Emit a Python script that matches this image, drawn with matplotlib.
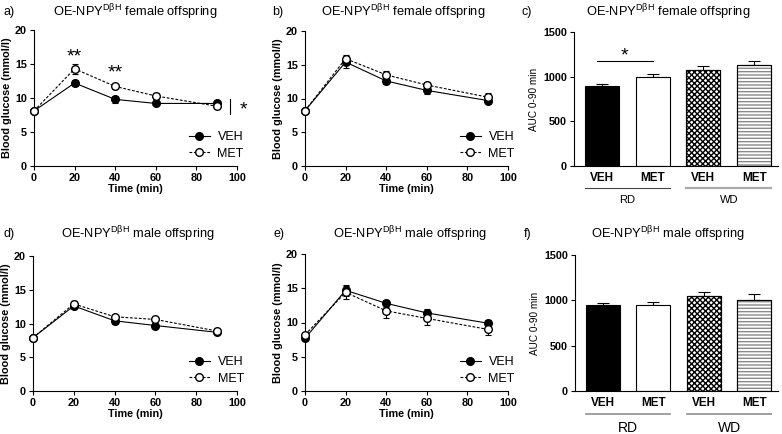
import matplotlib
matplotlib.use("Agg")
import matplotlib.pyplot as plt
import numpy as np

plt.rcParams['font.family'] = ['Liberation Sans', 'DejaVu Sans']
plt.rcParams['mathtext.fontset'] = 'custom'
plt.rcParams['mathtext.rm'] = 'Liberation Sans'
plt.rcParams['hatch.linewidth'] = 1.0

# time course data (mmol/l)
t = [0, 20, 40, 60, 90]

a_veh = [8.1, 12.2, 9.8, 9.2, 9.2]
a_veh_err = [0.2, 0.5, 0.5, 0.3, 0.3]
a_met = [8.1, 14.3, 11.7, 10.3, 8.8]
a_met_err = [0.2, 0.7, 0.4, 0.4, 0.3]

b_veh = [8.2, 15.4, 12.6, 11.2, 9.7]
b_veh_err = [0.2, 0.9, 0.5, 0.5, 0.3]
b_met = [8.2, 15.9, 13.5, 12.0, 10.2]
b_met_err = [0.2, 0.5, 0.6, 0.5, 0.6]

d_veh = [7.9, 12.6, 10.4, 9.7, 8.7]
d_veh_err = [0.2, 0.4, 0.4, 0.4, 0.3]
d_met = [7.9, 12.9, 11.0, 10.6, 8.9]
d_met_err = [0.2, 0.5, 0.2, 0.3, 0.3]

e_veh = [7.7, 14.7, 12.8, 11.4, 9.9]
e_veh_err = [0.2, 0.8, 0.5, 0.6, 0.5]
e_met = [8.2, 14.4, 11.7, 10.6, 9.0]
e_met_err = [0.2, 0.9, 1.0, 0.9, 0.8]

# AUC data
bar_labels = ['VEH', 'MET', 'VEH', 'MET']
groups = ['RD', 'WD']
c_auc = [895, 1000, 1075, 1128]
c_auc_err = [27, 34, 45, 45]
f_auc = [946, 950, 1053, 1005]
f_auc_err = [30, 30, 40, 70]

W, H = 782, 434
fig = plt.figure(figsize=(W / 100, H / 100), dpi=100)


def ax_at(x0, y0, x1, y1):
    return fig.add_axes([x0 / W, 1 - y1 / H, (x1 - x0) / W, (y1 - y0) / H])


def title(letter, sex, lx, cx, y):
    fig.text(lx / W, 1 - y / H, letter, fontsize=9, va='center')
    fig.text(cx / W, 1 - y / H, r'OE-NPY$^{\mathrm{DβH}}$ ' + sex + ' offspring',
             fontsize=9.3, ha='center', va='center')


def style(ax):
    for s in ['top', 'right']:
        ax.spines[s].set_visible(False)
    for s in ['left', 'bottom']:
        ax.spines[s].set_linewidth(0.8)
    ax.tick_params(length=3, width=0.8, labelsize=7.8, pad=2)
    for lb in ax.get_xticklabels() + ax.get_yticklabels():
        lb.set_fontweight('bold')


def line_panel(ax, veh, veh_err, met, met_err):
    ax.errorbar(t, veh, yerr=veh_err, fmt='none', ecolor='black', capsize=2,
                elinewidth=0.8, capthick=0.8, clip_on=False, zorder=2)
    ax.errorbar(t, met, yerr=met_err, fmt='none', ecolor='black', capsize=2,
                elinewidth=0.8, capthick=0.8, clip_on=False, zorder=2)
    ax.plot(t, veh, color='black', lw=0.8, marker='o', ms=5.5, mfc='black', mec='black',
            label='VEH', clip_on=False, zorder=3)
    ax.plot(t, met, color='black', lw=0.8, ls=(0, (2.5, 1.5)), marker='o', ms=5.5,
            mfc='white', mec='black', label='MET', clip_on=False, zorder=4)
    ax.set_xlim(0, 100)
    ax.set_ylim(0, 20)
    ax.set_xticks([0, 20, 40, 60, 80, 100])
    ax.set_yticks([0, 5, 10, 15, 20])
    ax.set_xlabel('Time (min)', fontsize=7.8, fontweight='bold', labelpad=1)
    ax.set_ylabel('Blood glucose (mmol/l)', fontsize=7.8, fontweight='bold', labelpad=2)
    style(ax)
    ax.legend(loc='lower right', bbox_to_anchor=(1.07, -0.01), frameon=False, fontsize=9,
              handlelength=1.7, handletextpad=0.6, labelspacing=0.35, borderaxespad=0.2)


def bar_panel(ax, vals, errs, big_group=False):
    x = np.arange(len(vals))
    fills = ['black', 'white', 'white', 'white']
    hatches = [None, None, 'xxxxxx', '-----']
    hcols = ['black', 'black', 'black', '#888888']
    for i in range(len(vals)):
        ax.bar(x[i], vals[i], width=0.67, color=fills[i], edgecolor='black', lw=0.8, zorder=2)
        if hatches[i]:
            ax.bar(x[i], vals[i], width=0.67, color='none', edgecolor=hcols[i], lw=0,
                   hatch=hatches[i], zorder=2)
            ax.bar(x[i], vals[i], width=0.67, color='none', edgecolor='black', lw=0.8, zorder=3)
        ax.errorbar(x[i], vals[i], yerr=[[0], [errs[i]]], color='black', capsize=4,
                    elinewidth=0.8, capthick=0.8, zorder=1)
    ax.set_xlim(-0.55, 3.47)
    ax.set_ylim(0, 1500)
    ax.set_yticks([0, 500, 1000, 1500])
    ax.set_xticks(x)
    ax.set_xticklabels(bar_labels)
    ax.set_ylabel('AUC 0-90 min', fontsize=7.2, labelpad=3)
    style(ax)
    ax.tick_params(axis='x', length=0, pad=4, labelsize=8.5)
    tr = ax.get_xaxis_transform()
    ly = -0.17 if big_group else -0.164
    ty = -0.275 if big_group else -0.254
    gcol = ['#999999', '#999999'] if big_group else ['#444444', '#aaaaaa']
    glw = [1.3, 1.3] if big_group else [0.8, 1.6]
    for g in range(2):
        x0 = 2 * g - 0.335
        x1 = 2 * g + 1 + 0.335
        ax.plot([x0, x1], [ly, ly], transform=tr, color=gcol[g], lw=glw[g], clip_on=False)
        ax.text(2 * g + 0.5, ty, groups[g], transform=tr, ha='center', va='center',
                fontsize=10 if big_group else 8)


# a)
ax = ax_at(34, 30, 237, 166)
line_panel(ax, a_veh, a_veh_err, a_met, a_met_err)
title('a)', 'female', 3, 135, 12)
ax.text(20, 16.1, '**', ha='center', va='center', fontsize=14)
ax.text(40, 13.7, '**', ha='center', va='center', fontsize=14)
ax.plot([96.7, 96.7], [7.6, 9.8], color='black', lw=0.8, clip_on=False)
ax.text(103, 8.3, '*', ha='center', va='center', fontsize=14, clip_on=False)

# b)
ax = ax_at(305, 31, 508, 166)
line_panel(ax, b_veh, b_veh_err, b_met, b_met_err)
title('b)', 'female', 272, 403, 12)

# c)
ax = ax_at(574, 32, 778, 166)
bar_panel(ax, c_auc, c_auc_err)
title('c)', 'female', 522, 668, 12)
ax.plot([-0.1, 1.0], [1172, 1172], color='black', lw=0.8)
ax.text(0.45, 1230, '*', ha='center', va='center', fontsize=14)

# d)
ax = ax_at(33, 256, 237, 391)
line_panel(ax, d_veh, d_veh_err, d_met, d_met_err)
title('d)', 'male', 3, 138, 234)

# e)
ax = ax_at(305, 254, 508, 391)
line_panel(ax, e_veh, e_veh_err, e_met, e_met_err)
title('e)', 'male', 273, 410, 234)

# f)
ax = ax_at(575, 255, 778, 391)
bar_panel(ax, f_auc, f_auc_err, big_group=True)
title('f)', 'male', 524, 668, 234)

fig.savefig('out.png', dpi=100)
